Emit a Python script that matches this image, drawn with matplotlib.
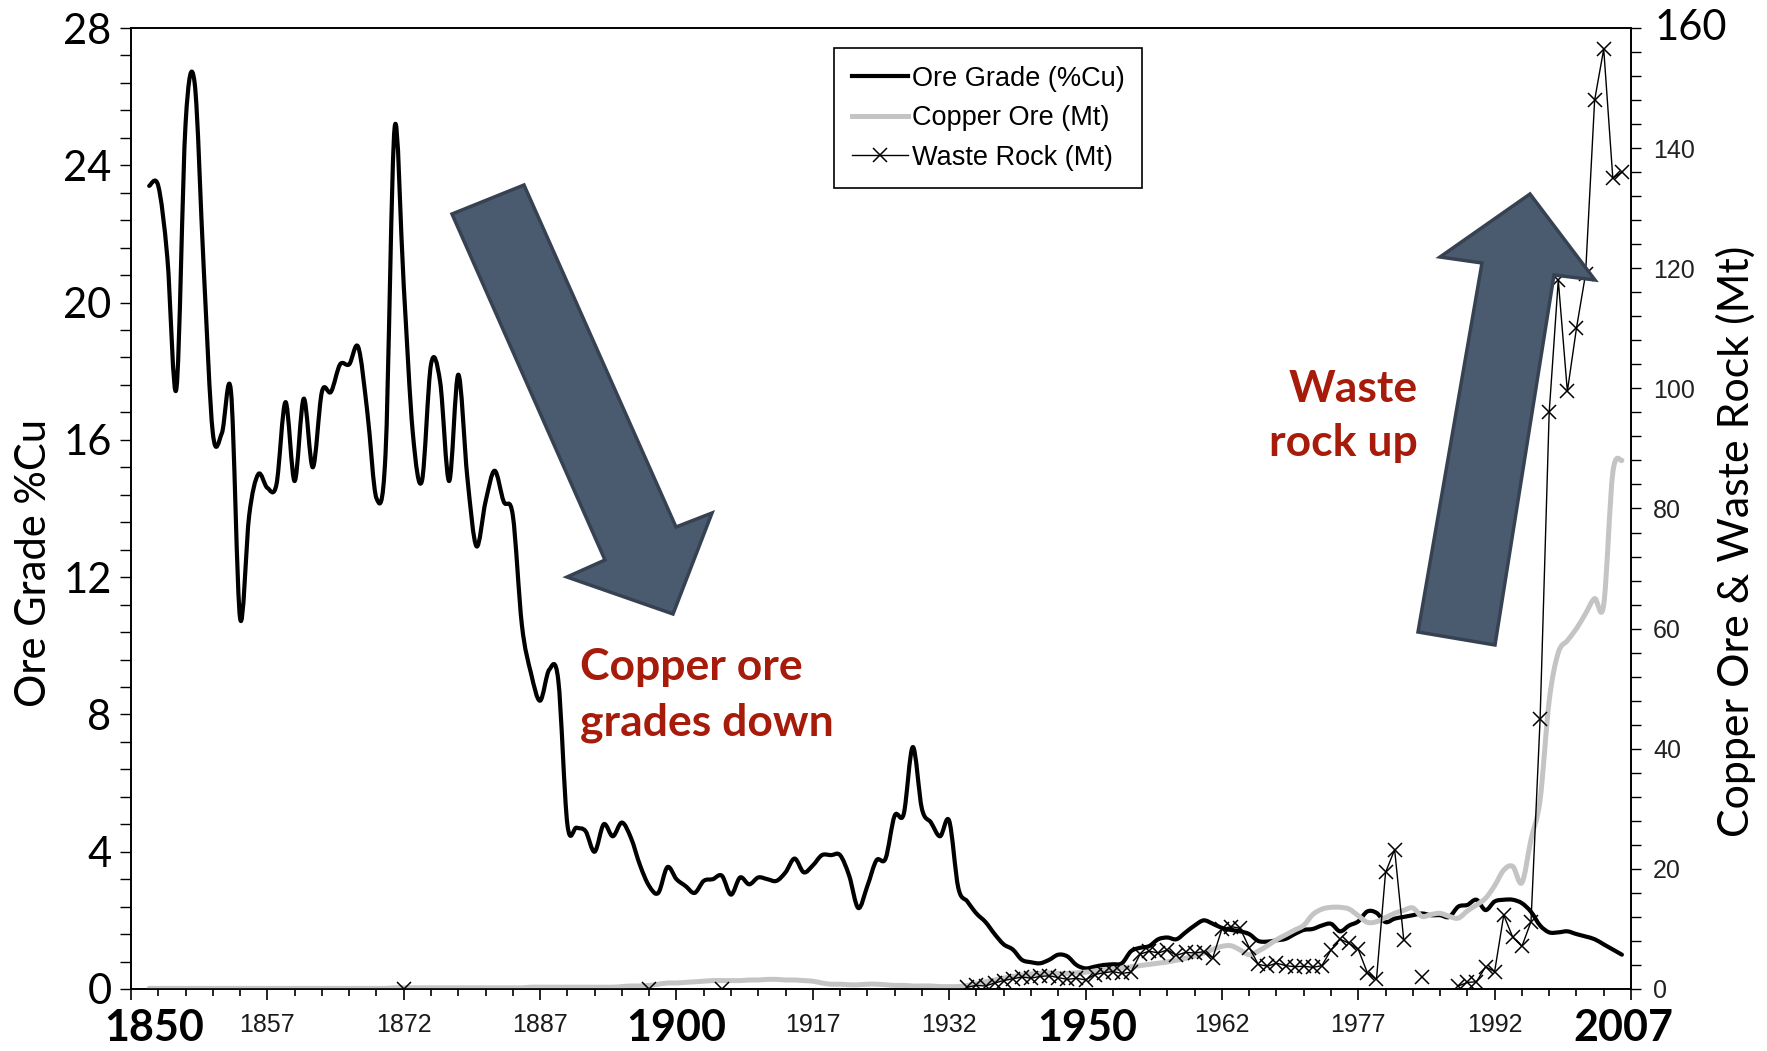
import numpy as np
import matplotlib
matplotlib.use("Agg")
import matplotlib.pyplot as plt
import matplotlib.transforms as mtransforms
from matplotlib.patches import Polygon, PathPatch
from matplotlib.path import Path
from matplotlib.lines import Line2D
from matplotlib.ticker import MultipleLocator, FixedLocator

nan = np.nan

# --- data ---
years = list(range(1844, 2007))

ore_grade = [
    23.4, 23.4, 21.3, 17.5, 25.2, 26.4,                                  # 1844-1849
    21.0, 16.2, 16.2, 17.4, 10.8, 13.8, 15.0, 14.6, 14.7, 17.1,          # 1850s
    14.8, 17.2, 15.2, 17.4, 17.4, 18.2, 18.2, 18.7, 16.8, 14.3,          # 1860s
    15.6, 25.1, 20.5, 16.2, 14.8, 18.2, 17.7, 14.8, 17.9, 14.9,          # 1870s
    12.9, 14.2, 15.1, 14.2, 13.8, 10.6, 9.2, 8.4, 9.3, 9.0,              # 1880s
    4.8, 4.7, 4.6, 4.0, 4.8, 4.45, 4.85, 4.4, 3.6, 3.0,                  # 1890s
    2.8, 3.55, 3.2, 3.0, 2.8, 3.15, 3.2, 3.3, 2.75, 3.25,                # 1900s
    3.05, 3.25, 3.2, 3.15, 3.4, 3.8, 3.4, 3.6, 3.9, 3.9,                 # 1910s
    3.9, 3.3, 2.36, 3.0, 3.75, 3.8, 5.05, 5.1, 7.05, 5.25,               # 1920s
    4.85, 4.45, 4.9, 2.95, 2.55, 2.2, 1.95, 1.6, 1.3, 1.15,              # 1930s
    0.85, 0.78, 0.75, 0.85, 1.0, 0.95, 0.7, 0.6, 0.65, 0.7,              # 1940s
    0.72, 0.75, 1.1, 1.2, 1.25, 1.45, 1.5, 1.45, 1.65, 1.85,             # 1950s
    2.0, 1.9, 1.78, 1.72, 1.68, 1.6, 1.4, 1.38, 1.42, 1.46,              # 1960s
    1.6, 1.72, 1.75, 1.85, 1.9, 1.68, 1.85, 1.97, 2.26, 2.22,            # 1970s
    1.95, 2.05, 2.1, 2.15, 2.2, 2.15, 2.15, 2.1, 2.4, 2.45,              # 1980s
    2.6, 2.3, 2.55, 2.6, 2.6, 2.5, 2.25, 1.85, 1.65, 1.65,               # 1990s
    1.68, 1.6, 1.53, 1.45, 1.3, 1.15, 1.0,                               # 2000-2006
]

copper_ore = [
    0.1, 0.1, 0.1, 0.1, 0.1, 0.1,                                        # 1844-1849
    0.1, 0.1, 0.1, 0.1, 0.1, 0.1, 0.1, 0.1, 0.1, 0.1,                    # 1850s
    0.1, 0.1, 0.1, 0.1, 0.1, 0.1, 0.1, 0.1, 0.1, 0.1,                    # 1860s
    0.1, 0.2, 0.2, 0.2, 0.2, 0.2, 0.2, 0.2, 0.2, 0.2,                    # 1870s
    0.2, 0.2, 0.2, 0.2, 0.2, 0.2, 0.3, 0.3, 0.3, 0.3,                    # 1880s
    0.3, 0.3, 0.3, 0.3, 0.3, 0.3, 0.4, 0.5, 0.5, 0.6,                    # 1890s
    0.8, 1.0, 1.0, 1.1, 1.2, 1.3, 1.4, 1.4, 1.4, 1.4,                    # 1900s
    1.5, 1.5, 1.6, 1.6, 1.5, 1.5, 1.4, 1.3, 1.0, 0.8,                    # 1910s
    0.8, 0.7, 0.7, 0.8, 0.8, 0.7, 0.6, 0.6, 0.5, 0.5,                    # 1920s
    0.5, 0.4, 0.4, 0.4, 0.6, 0.9, 1.2, 1.5, 1.8, 2.1,                    # 1930s
    2.3, 2.5, 2.6, 2.7, 2.6, 2.6, 2.7, 2.8, 3.0, 3.2,                    # 1940s
    3.3, 3.5, 3.7, 3.9, 4.1, 4.3, 4.5, 4.8, 5.1, 5.5,                    # 1950s
    6.0, 6.6, 7.1, 7.2, 6.5, 5.7, 6.3, 7.2, 8.2, 9.0,                    # 1960s
    9.8, 10.6, 12.4, 13.3, 13.6, 13.6, 13.3, 12.2, 11.1, 11.2,           # 1970s
    11.9, 12.6, 13.1, 13.5, 12.1, 12.4, 12.6, 12.1, 11.8, 13.0,          # 1980s
    14.0, 15.1, 17.2, 19.8, 20.4, 17.7, 24.9, 31.5, 48.0, 56.0,          # 1990s
    58.0, 60.0, 62.5, 65.0, 64.0, 86.0, 88.0,                            # 2000-2006
]

# waste rock is sparse before 1934; NaN = no data (line break)
waste_years = [1872, 1873, 1899, 1907, 1918, 1919] + list(range(1934, 2007))
waste_rock = [0, nan, 0, 0, 0, nan] + [
    0.3, 0.6, 0.5, 1.0, 1.4, 1.7,                                        # 1934-1939
    2.0, 1.8, 2.1, 2.2, 1.9, 1.6, 1.8, 1.5, 2.4, 2.7,                    # 1940s
    2.9, 2.6, 2.8, 5.8, 6.3, 6.0, 6.5, 5.6, 6.1, 6.0,                    # 1950s
    6.2, 5.2, 10.0, 10.4, 10.1, 6.9, 4.1, 3.8, 4.3, 3.9,                 # 1960s
    3.7, 3.8, 3.6, 3.9, 6.5, 8.3, 7.6, 6.6, 2.7, 1.6,                    # 1970s
    19.4, 23.2, 8.2, nan, 2.0, nan, nan, nan, 0.5, 1.1,                  # 1980s
    1.2, 3.7, 2.9, 12.3, 8.6, 7.1, 11.2, 44.9, 96.0, 118.0,              # 1990s
    99.5, 110.0, 119.0, 148.0, 156.5, 135.0, 136.0,                      # 2000-2006
]
waste_unmarked = [1918]

small_year_labels = [1857, 1872, 1887, 1917, 1932, 1962, 1977, 1992]
big_year_labels = ["1850", "1900", "1950", "2007"]
big_year_pos = [1844.5, 1902, 1947.2, 2006.2]
right_ticks = list(range(0, 161, 20))


def smooth_path(x, y):
    # excel-style smoothed line: cubic bezier through every point
    x = np.asarray(x, float)
    y = np.asarray(y, float)
    n = len(x)
    verts = [(x[0], y[0])]
    codes = [Path.MOVETO]
    for i in range(n - 1):
        a = i - 1 if i > 0 else i
        d = i + 2 if i + 2 < n else i + 1
        c1 = (x[i] + (x[i + 1] - x[a]) / 6, y[i] + (y[i + 1] - y[a]) / 6)
        c2 = (x[i + 1] - (x[d] - x[i]) / 6, y[i + 1] - (y[d] - y[i]) / 6)
        verts += [c1, c2, (x[i + 1], y[i + 1])]
        codes += [Path.CURVE4] * 3
    return Path(verts, codes)


W, H = 1767, 1051
fig = plt.figure(figsize=(W / 100, H / 100), dpi=100)
ax = fig.add_axes([131 / W, 1 - 989 / H, 1500 / W, 961 / H])
ax2 = ax.twinx()

calib = ["Lato", "DejaVu Sans"]
arial = ["Liberation Sans", "DejaVu Sans"]

# series
ax.add_patch(PathPatch(smooth_path(years, ore_grade), fill=False,
                       edgecolor="black", lw=3.0, joinstyle="round",
                       capstyle="round"))
ax2.add_patch(PathPatch(smooth_path(years, copper_ore), fill=False,
                        edgecolor="#c4c4c4", lw=3.6, joinstyle="round",
                        capstyle="round"))
marks = [i for i, y in enumerate(waste_years)
         if y not in waste_unmarked and not np.isnan(waste_rock[i])]
ax2.plot(waste_years, waste_rock, color="black", lw=1.0,
         marker="x", ms=10, mew=1.1, markevery=marks)

# axes limits/ticks
ax.set_xlim(1842, 2007)
ax.set_ylim(0, 28)
ax2.set_ylim(0, 160)

major_x = list(range(1842, 2008, 15))
ax.xaxis.set_major_locator(FixedLocator(major_x))
ax.set_xticklabels([str(y) if y in small_year_labels else "" for y in major_x],
                   family=arial, fontsize=18, color="#1a1a1a")
ax.xaxis.set_minor_locator(FixedLocator(list(range(1842, 2008, 3))))
ax.tick_params(axis="x", which="major", length=8, width=1.2, pad=9)
ax.tick_params(axis="x", which="minor", length=5, width=1.2)

ax.yaxis.set_major_locator(MultipleLocator(4))
ax.yaxis.set_minor_locator(MultipleLocator(0.8))
ax.tick_params(axis="y", which="both", length=8, width=1.0, pad=6)
for t in ax.get_yticklabels():
    t.set_family(calib)
    t.set_fontsize(30)

ax2.set_yticks(right_ticks, [str(v) if v < 160 else "" for v in right_ticks],
               family=arial, fontsize=18, color="#222222")
ax2.yaxis.set_minor_locator(MultipleLocator(4))
ax2.tick_params(axis="y", which="both", length=7, width=1.0, pad=9)
ytrans = mtransforms.blended_transform_factory(ax2.transAxes, ax2.transData)
ax2.text(1.016, 160, "160", transform=ytrans, ha="left", va="center",
         family=calib, fontsize=30, clip_on=False)

for a in (ax, ax2):
    for s in a.spines.values():
        s.set_linewidth(1.2)

ax.set_ylabel("Ore Grade %Cu", family=calib, fontsize=30, va="center")
ax.yaxis.set_label_coords(-0.0647, 0.443)
ax2.set_ylabel("Copper Ore & Waste Rock (Mt)", family=calib, fontsize=31,
               va="center", rotation=90)
ax2.yaxis.set_label_coords(1.0697, 0.466)

# big overlaid year labels
trans = mtransforms.blended_transform_factory(ax.transData, fig.transFigure)
for lab, x in zip(big_year_labels, big_year_pos):
    ax.text(x, 1 - 1028 / H, lab, transform=trans, ha="center", va="center",
            family=calib, fontweight="bold", fontsize=31, clip_on=False)

# legend
handles = [
    Line2D([], [], color="black", lw=3.0, label="Ore Grade (%Cu)"),
    Line2D([], [], color="#c4c4c4", lw=3.6, label="Copper Ore (Mt)"),
    Line2D([], [], color="black", lw=1.0, marker="x", ms=10, mew=1.1,
           label="Waste Rock (Mt)"),
]
leg = ax2.legend(handles=handles, loc="upper left",
                 bbox_to_anchor=(834 / W, 1 - 48 / H),
                 bbox_transform=fig.transFigure, borderaxespad=0,
                 prop={"family": arial, "size": 19.5}, frameon=True,
                 fancybox=False, edgecolor="black", framealpha=1,
                 handlelength=2.1, handletextpad=0.12, labelspacing=0.5,
                 borderpad=0.65)
leg.get_frame().set_linewidth(1.2)

# block arrows (figure pixel coords)
down_arrow = [(452, 214), (524, 185), (676, 527), (712, 513),
              (673, 614), (567, 577), (605, 560)]
up_arrow = [(1418, 632), (1482, 263), (1440, 257), (1530, 194),
            (1595, 280), (1554, 275), (1495, 645)]
for pts in (down_arrow, up_arrow):
    poly = Polygon([(x / W, 1 - y / H) for x, y in pts], closed=True,
                   transform=fig.transFigure, facecolor="#4b5b6f",
                   edgecolor="#364252", lw=2.5, zorder=5)
    fig.patches.append(poly)

red = "#a61b0a"
fig.text(580 / W, 1 - 695 / H, "Copper ore\ngrades down", color=red,
         family=calib, fontweight="bold", fontsize=32, ha="left",
         va="center", linespacing=1.45)
fig.text(1418 / W, 1 - 416 / H, "Waste\nrock up", color=red,
         family=calib, fontweight="bold", fontsize=32, ha="right",
         va="center", linespacing=1.4, multialignment="right")

fig.savefig("out.png", dpi=100)
